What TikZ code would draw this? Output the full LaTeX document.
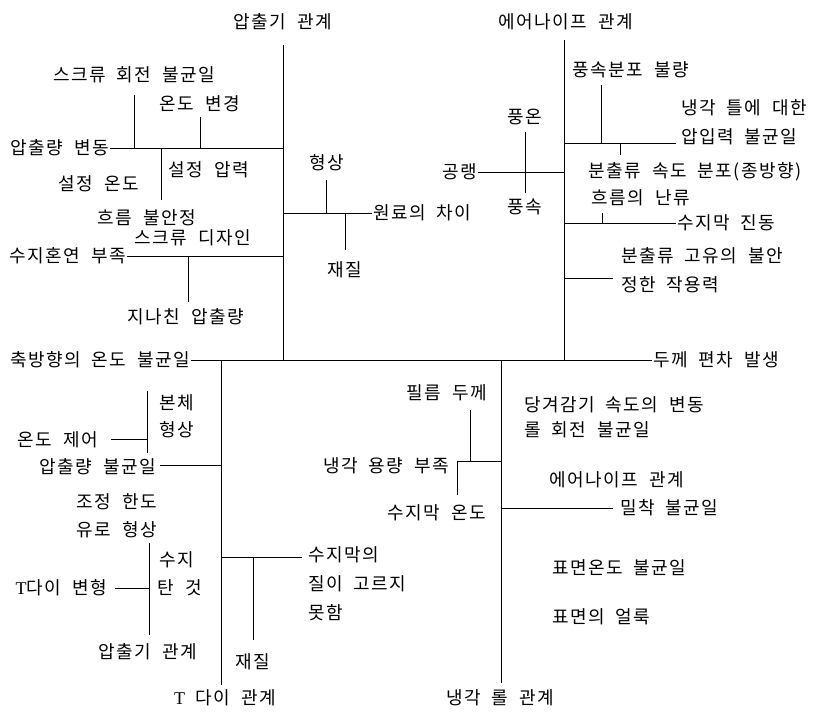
\documentclass[tikz,border=0pt]{standalone}
\usepackage{fontspec}
\newfontfamily\kr[LetterSpace=8,WordSpace=2]{Noto Sans CJK KR}
\newfontfamily\serifT{Liberation Serif}
\tikzset{
  lbl/.style={font=\kr\fontsize{18}{29}\selectfont,inner sep=1pt},
  bone/.style={line width=0.9pt}
}
\begin{document}
\begin{tikzpicture}[x=1pt,y=-1pt]
\useasboundingbox (0,0) rectangle (813,716);
% main spine
\node[lbl,anchor=east] (axial) at (191,360) {축방향의 온도 불균일};
\node[lbl,anchor=west] (effect) at (652,360) {두께 편차 발생};
\draw[bone] (axial.east) -- (effect.west);
% big bones
\node[lbl] (ext) at (283,22) {압출기 관계};
\node[lbl] (air) at (566,22) {에어나이프 관계};
\node[lbl] (tdie) at (225,698) {{\serifT T} 다이 관계};
\node[lbl] (roll) at (500,698) {냉각 롤 관계};
\coordinate (extB) at (283,360);
\coordinate (airB) at (564,360);
\coordinate (tdieB) at (221,360);
\coordinate (rollB) at (501,360);
\draw[bone] (283,45) -- (extB);
\draw[bone] (564,40) -- (airB);
\draw[bone] (tdieB) -- (221,685);
\draw[bone] (rollB) -- (501,683);
% extruder side
\node[lbl,anchor=east] (flow) at (110,148) {압출량 변동};
\draw[bone] (flow.east) -- (283,148);
\node[lbl] (screwrot) at (134,75) {스크류 회전 불균일};
\draw[bone] (134,95) -- (134,148);
\node[lbl] (tempchg) at (200,104) {온도 변경};
\draw[bone] (200,117) -- (200,148);
\node[lbl] (setp) at (209,170) {설정 압력};
\node[lbl] (sett) at (99,184) {설정 온도};
\node[lbl] (unstable) at (147,218) {흐름 불안정};
\draw[bone] (161,148) -- (161,200);
\node[lbl,anchor=east] (mix) at (127,256) {수지혼연 부족};
\draw[bone] (mix.east) -- (283,256);
\node[lbl] (screwdes) at (193,238) {스크류 디자인};
\node[lbl] (overflow) at (186,317) {지나친 압출량};
\draw[bone] (188,256) -- (188,302);
\node[lbl,anchor=west] (raw) at (372,213) {원료의 차이};
\draw[bone] (283,213) -- (raw.west);
\node[lbl] (shape) at (327,163) {형상};
\draw[bone] (326,180) -- (326,213);
\node[lbl] (mat) at (345,270) {재질};
\draw[bone] (345,213) -- (345,250);
% air knife side
\node[lbl,anchor=east] (cool) at (478,172) {공랭};
\draw[bone] (cool.east) -- (564,172);
\node[lbl] (wtemp) at (525,117) {풍온};
\node[lbl] (wspd) at (525,207) {풍속};
\draw[bone] (525,132) -- (525,193);
\node[lbl,anchor=west,align=left] (press) at (680,122) {냉각 틀에 대한\\압입력 불균일};
\draw[bone] (564,143) -- (676,143);
\node[lbl] (wdist) at (631,70) {풍속분포 불량};
\draw[bone] (601,85) -- (601,143);
\node[lbl] (jetdist) at (695,172) {분출류 속도 분포(종방향)};
\draw[bone] (620,143) -- (620,155);
\node[lbl] (turb) at (641,198) {흐름의 난류};
\draw[bone] (602,213) -- (602,223);
\node[lbl,anchor=west] (vib) at (676,223) {수지막 진동};
\draw[bone] (564,223) -- (vib.west);
\node[lbl,anchor=west,align=left] (force) at (620,270) {분출류 고유의 불안\\정한 작용력};
\draw[bone] (564,278) -- (613,278);
% T-die side
\node[lbl,anchor=east] (unif) at (157,467) {압출량 불균일};
\draw[bone] (160,465) -- (221,465);
\node[lbl,anchor=east] (tctl) at (99,440) {온도 제어};
\draw[bone] (111,439) -- (147,439);
\draw[bone] (147,391) -- (147,453);
\node[lbl] (body) at (177,403) {본체};
\node[lbl] (shape2) at (177,430) {형상};
\node[lbl] (adj) at (117,502) {조정 한도};
\node[lbl] (path) at (117,530) {유로 형상};
\node[lbl,anchor=north west,align=left] (film) at (307,545) {수지막의\\질이 고르지\\못함};
\draw[bone] (221,557) -- (302,557);
\node[lbl] (mat2) at (253,662) {재질};
\draw[bone] (253,557) -- (253,640);
\node[lbl,anchor=east] (tdef) at (108,588) {{\serifT T}다이 변형};
\draw[bone] (115,588) -- (149,588);
\draw[bone] (149,543) -- (149,635);
\node[lbl] (resin) at (177,560) {수지};
\node[lbl] (burnt) at (180,588) {탄 것};
\node[lbl] (ext2) at (148,652) {압출기 관계};
% chill roll side
\node[lbl] (capa) at (386,466) {냉각 용량 부족};
\node[lbl] (thick) at (447,393) {필름 두께};
\draw[bone] (470,410) -- (470,461);
\node[lbl] (rtemp) at (437,513) {수지막 온도};
\draw[bone] (457,461) -- (457,495);
\draw[bone] (457,461) -- (501,461);
\node[lbl,anchor=west] (adh) at (619,508) {밀착 불균일};
\draw[bone] (501,508) -- (613,508);
\node[lbl,anchor=west] (wind) at (523,405) {당겨감기 속도의 변동};
\node[lbl,anchor=west] (rollrot) at (523,430) {롤 회전 불균일};
\node[lbl] (air2) at (617,480) {에어나이프 관계};
\node[lbl,anchor=west] (surft) at (551,568) {표면온도 불균일};
\node[lbl,anchor=west] (stain) at (551,617) {표면의 얼룩};
\end{tikzpicture}
\end{document}
